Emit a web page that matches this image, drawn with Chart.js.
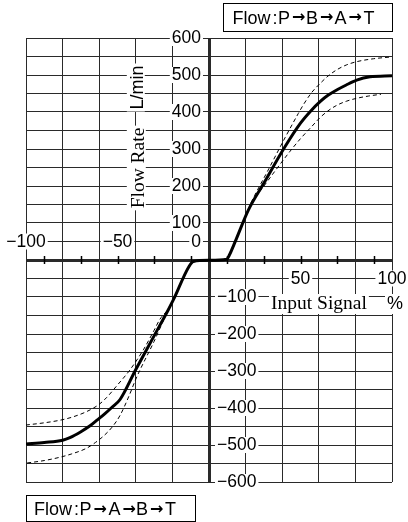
<!DOCTYPE html>
<html><head><meta charset="utf-8">
<script src="https://cdn.jsdelivr.net/npm/chart.js@4.4.0/dist/chart.umd.min.js"></script>
<style>html,body{margin:0;padding:0;background:#fff;}canvas{display:block;}</style>
</head><body>
<canvas id="c" width="408" height="522"></canvas>
<script>
// ---- data ----
const xLabelsNeg = [-100, -50];
const xLabelsPos = [50, 100];
const yLabelsPos = [600, 500, 400, 300, 200, 100];
const yLabelsNeg = [-100, -200, -300, -400, -500, -600];

const solidX = [-100,-90,-80,-76,-70,-65,-61,-57,-53,-48.6,-40,-30,-22.3,-19.5,-11,-8.5,0,9.7,11,15,21.5,30,41.5,50,56,60.7,65,70,75,80.7,88,100];
const solidY = [-497,-493,-487,-480,-464,-448,-432,-416,-398,-377,-296,-205,-135,-108,-18,-4,-1,2,12,58,135,208,306,370,405,428,445,460,473,486,495,498];

const posUpperX = [23,25,32,41.5,48.8,52,56,60.7,65,69.8,75,80.7,90,100];
const posUpperY = [155,175,240,330,396,423,452,477,497,514,527,536,544,549];
const posLowerX = [23,27,36,44,50,56,60.7,65,69.8,75,80.7,87,94];
const posLowerY = [155,180,240,292,328,360,385,403,418,429,437,443,448];

const negUpperX = [-23,-26.8,-30,-35.9,-43.2,-50.4,-56,-60,-67,-75,-81.4,-90,-100];
const negUpperY = [-138,-160,-190,-243,-297,-340,-372,-390,-410,-425,-433,-440,-446];
const negLowerX = [-23,-25,-30,-35,-37.7,-40.5,-43.5,-48.6,-53,-57.9,-62,-67,-75,-81.4,-90,-100];
const negLowerY = [-145,-165,-220,-270,-297,-328,-365,-420,-452,-477,-493,-509,-524,-533,-542,-549];

const boxTop = ['Flow', ':', 'P', '→', 'B', '→', 'A', '→', 'T'];
const boxBottom = ['Flow', ':', 'P', '→', 'A', '→', 'B', '→', 'T'];

// ---- helpers ----
const SANS = "'Liberation Sans', Arial, sans-serif";
const SERIF = "'Liberation Serif', 'Times New Roman', serif";
const pts = (xs, ys) => xs.map((x, i) => ({x, y: ys[i]}));
const ds = (xs, ys, o) => Object.assign({data: pts(xs, ys), showLine: true, pointRadius: 0,
  borderColor: '#000', fill: false, cubicInterpolationMode: 'monotone'}, o);

function label(ctx, text, x, y, align, font) {
  ctx.font = font;
  const m = ctx.measureText(text);
  const w = m.width;
  const left = align === 'right' ? x - w : align === 'center' ? x - w / 2 : x;
  ctx.fillStyle = '#fff';
  ctx.fillRect(left - 2, y - 8, w + 4, 16);
  ctx.fillStyle = '#000';
  ctx.textAlign = 'left';
  ctx.textBaseline = 'middle';
  ctx.fillText(text, left, y + 0.5);
}

function rotLabel(ctx, text, cx, cy, baseX, font, asc) {
  ctx.save();
  ctx.font = font;
  const w = ctx.measureText(text).width;
  ctx.fillStyle = '#fff';
  ctx.fillRect(baseX - asc - 2, cy - w / 2 - 2, asc + 4, w + 4);
  ctx.translate(baseX, cy);
  ctx.rotate(-Math.PI / 2);
  ctx.fillStyle = '#000';
  ctx.textAlign = 'center';
  ctx.textBaseline = 'alphabetic';
  ctx.fillText(text, 0, 0);
  ctx.restore();
}

function flowBox(ctx, pieces, bx, by, bw, bh, startX, capTop, baseline) {
  ctx.save();
  ctx.strokeStyle = '#000';
  ctx.lineWidth = 1;
  ctx.strokeRect(bx + 0.5, by + 0.5, bw, bh);
  const capMid = (capTop + baseline) / 2;
  let x = startX;
  const gaps = [2, 2.5, 2, 2, 2, 1.5, 2, 2];
  pieces.forEach((p, i) => {
    const isArrow = p === '→';
    ctx.font = isArrow ? "bold 16px 'DejaVu Sans', sans-serif" : '18px ' + SANS;
    const m = ctx.measureText(p);
    const inkL = -m.actualBoundingBoxLeft;
    const inkW = m.actualBoundingBoxRight + m.actualBoundingBoxLeft;
    let yb = baseline;
    if (isArrow) yb = capMid + (m.actualBoundingBoxAscent - m.actualBoundingBoxDescent) / 2;
    ctx.fillStyle = '#000';
    ctx.textAlign = 'left';
    ctx.textBaseline = 'alphabetic';
    ctx.fillText(p, x - inkL, yb);
    x += inkW + (gaps[i] || 0);
  });
  ctx.restore();
}

const decor = {
  id: 'decor',
  beforeDatasetsDraw(chart) {
    const ctx = chart.ctx;
    const xs = chart.scales.x, ys = chart.scales.y;
    const ax = xs.getPixelForValue(0), ay = ys.getPixelForValue(0);
    ctx.save();
    // minor ticks on the x axis
    ctx.strokeStyle = '#000';
    ctx.lineWidth = 1.5;
    for (let v = -90; v <= 90; v += 20) {
      const px = Math.round(xs.getPixelForValue(v)) + 0.5;
      ctx.beginPath(); ctx.moveTo(px, ay - 4); ctx.lineTo(px, ay + 4); ctx.stroke();
    }
    const f = '17.5px ' + SANS;
    yLabelsPos.forEach(v => label(ctx, String(v), ax - 8, ys.getPixelForValue(v), 'right', f));
    yLabelsNeg.forEach(v => label(ctx, '−' + Math.abs(v), ax + 8, ys.getPixelForValue(v), 'left', f));
    label(ctx, '0', ax - 8, ys.getPixelForValue(50), 'right', f);
    xLabelsNeg.forEach(v => label(ctx, '−' + Math.abs(v), xs.getPixelForValue(v), ys.getPixelForValue(50), 'center', f));
    xLabelsPos.forEach(v => label(ctx, String(v), xs.getPixelForValue(v), ys.getPixelForValue(-50), 'center', f));
    // axis titles
    ctx.font = '19.5px ' + SERIF;
    const isw = ctx.measureText('Input Signal').width;
    const isx = 271, isy = ys.getPixelForValue(-100) + 12;
    ctx.fillStyle = '#fff';
    ctx.fillRect(isx - 2, isy - 15, isw + 4, 20);
    ctx.fillStyle = '#000';
    ctx.textAlign = 'left'; ctx.textBaseline = 'alphabetic';
    ctx.fillText('Input Signal', isx, isy);
    ctx.font = '18px ' + SANS;
    const pw = ctx.measureText('%').width;
    ctx.fillStyle = '#fff';
    ctx.fillRect(395 - pw / 2 - 2, isy - 15, pw + 4, 20);
    ctx.fillStyle = '#000';
    ctx.fillText('%', 395 - pw / 2, isy);
    const tx = xs.getPixelForValue(-40);
    rotLabel(ctx, 'L/min', tx, 87.5, tx + 7, '18px ' + SANS, 14);
    rotLabel(ctx, 'Flow Rate', tx, 168, tx + 8, '19.5px ' + SERIF, 15);
    ctx.restore();
  },
  afterDraw(chart) {
    const ctx = chart.ctx;
    flowBox(ctx, boxTop, 223, 3, 169, 28, 233.5, 10, 23.5);
    flowBox(ctx, boxBottom, 26, 495, 169, 26, 35, 502, 515);
  }
};

const gridOpts = {
  color: '#2a2a2a',
  lineWidth: c => (c.tick && c.tick.value === 0) ? 3 : 1,
  drawTicks: false
};

new Chart(document.getElementById('c'), {
  type: 'scatter',
  data: {
    datasets: [
      ds(solidX, solidY, {borderWidth: 3}),
      ds(posUpperX, posUpperY, {borderWidth: 1, borderDash: [4, 3]}),
      ds(posLowerX, posLowerY, {borderWidth: 1, borderDash: [4, 3]}),
      ds(negUpperX, negUpperY, {borderWidth: 1, borderDash: [4, 3]}),
      ds(negLowerX, negLowerY, {borderWidth: 1, borderDash: [4, 3]})
    ]
  },
  options: {
    responsive: false,
    animation: false,
    devicePixelRatio: 1,
    layout: {padding: {left: 26, right: 16, top: 38, bottom: 40}},
    plugins: {legend: {display: false}, tooltip: {enabled: false}},
    scales: {
      x: {type: 'linear', min: -100, max: 100, ticks: {stepSize: 20, display: false},
          grid: gridOpts, border: {display: false}, afterFit: s => { s.height = 0; }},
      y: {type: 'linear', min: -600, max: 600, ticks: {stepSize: 50, display: false},
          grid: gridOpts, border: {display: false}, afterFit: s => { s.width = 0; }}
    }
  },
  plugins: [decor]
});
</script>
</body></html>
